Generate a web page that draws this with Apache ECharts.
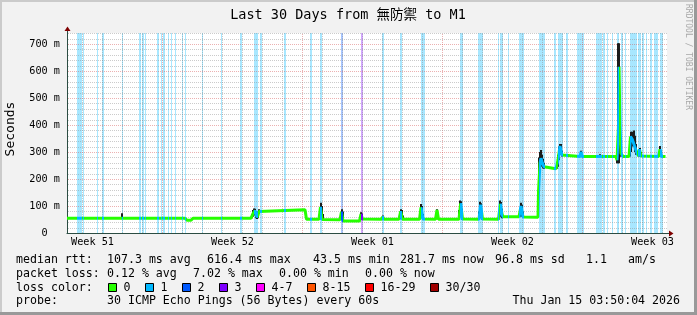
<!DOCTYPE html>
<html><head><meta charset="utf-8">
<script src="https://cdn.jsdelivr.net/npm/echarts@6/dist/echarts.min.js"></script>
<style>html,body{margin:0;padding:0;background:#f2f2f2}#c{width:697px;height:315px}</style>
</head><body><div id="c"></div>
<script>
// ---- data (time = hours since start of the 30-day window, values in ms) ----
const weekLabels = ['Week 51', 'Week 52', 'Week 01', 'Week 02', 'Week 03'];
const weekLabelHours = [30.6, 198.6, 366.6, 534.6, 702.6];
const yTickValues = [0, 100, 200, 300, 400, 500, 600, 700];

const medianHours = [0, 63.6, 66.0, 68.4, 141.6, 144.0, 148.8, 151.2, 220.8, 223.2, 225.6, 226.8, 228.0, 229.2, 230.4, 232.8,
  285.6, 287.4, 302.4, 304.2, 306.0, 307.2, 327.6, 329.4, 331.2, 351.0, 352.8, 354.6, 377.4, 378.8, 380.4, 398.4, 400.4, 402.6,
  423.0, 424.8, 427.2, 442.2, 444.0, 445.8, 470.4, 472.4, 474.6, 494.4, 496.4, 498.6, 517.8, 520.0, 522.0, 523.2, 542.4, 544.8,
  547.2, 565.2, 565.8, 567.6, 568.8, 570.0, 572.4, 573.6, 586.8, 589.2, 591.6, 594.0, 595.2, 615.6, 616.8, 618.0, 638.4, 639.6,
  640.8, 658.8, 660.0, 661.8, 662.4, 663.6, 664.8, 667.2, 674.4, 676.2, 678.6, 681.0, 683.4, 685.8, 687.0, 688.8, 690.6, 709.8,
  711.6, 713.4, 718.2];
const medianValues = [55, 55, 62, 55, 55, 47, 47, 55, 55, 72, 83, 70, 58, 66, 80, 86,
  86, 51, 51, 97, 50, 49, 49, 79, 44, 44, 70, 52, 51, 60, 51, 51, 80, 51,
  51, 95, 52, 51, 85, 51, 51, 110, 52, 51, 105, 52, 51, 108, 70, 60, 60, 100,
  59, 58, 153, 260, 277, 264, 245, 238, 238, 270, 322, 289, 283, 283, 301, 283, 283, 290,
  283, 283, 270, 400, 616, 400, 295, 283, 283, 357, 345, 350, 300, 285, 310, 285, 283, 283,
  310, 283, 283];

const smokeHours = [66.0, 222.0, 223.2, 224.4, 225.6, 226.8, 228.0, 229.2, 230.4, 303.0, 304.2, 305.4, 306.6, 328.2, 329.4, 330.6,
  351.6, 352.8, 354.0, 378.8, 399.0, 400.2, 401.4, 402.6, 423.6, 424.8, 426.0, 427.2, 442.8, 444.0, 445.2, 470.4, 471.6, 472.8, 474.0,
  494.4, 495.6, 496.8, 498.0, 518.4, 519.6, 520.8, 522.0, 543.6, 544.8, 546.0, 547.2, 565.2, 566.4, 567.6, 568.8, 570.0, 571.2, 572.4,
  587.4, 588.6, 589.8, 591.0, 592.2, 593.4, 616.8, 639.6, 660.0, 661.2, 662.4, 663.6, 664.8, 675.6, 676.8, 678.0, 679.2, 680.4, 681.6,
  682.8, 686.4, 687.6, 688.8, 710.4, 711.6, 712.8];
const smokeLow = [55, 55, 60, 65, 70, 55, 52, 55, 70, 51, 60, 50, 48, 49, 55, 45,
  44, 50, 50, 50, 51, 55, 51, 50, 51, 60, 55, 50, 51, 55, 51, 51, 60, 60, 50,
  51, 60, 55, 50, 51, 60, 60, 55, 60, 65, 60, 58, 58, 153, 240, 250, 245, 240, 238,
  238, 245, 270, 290, 295, 283, 283, 283, 258, 258, 258, 283, 283, 283, 300, 320, 330, 320, 300,
  290, 283, 290, 283, 283, 290, 283];
const smokeHigh = [73, 70, 85, 91, 90, 80, 65, 80, 88, 90, 112, 100, 70, 70, 88, 80,
  60, 77, 72, 65, 75, 88, 85, 65, 80, 107, 100, 70, 70, 88, 75, 85, 120, 118, 90,
  80, 116, 110, 80, 85, 120, 115, 90, 90, 112, 105, 80, 153, 280, 300, 307, 290, 275, 260,
  255, 290, 320, 330, 330, 305, 305, 292, 290, 703, 703, 320, 300, 330, 375, 375, 370, 380, 360,
  330, 300, 315, 300, 300, 322, 305];

const lossStart = [12.0, 18.8, 35.6, 42.0, 65.6, 86.8, 89.6, 93.6, 108.4, 112.4, 114.8, 120.8, 124.8, 129.6, 138.0, 141.6,
  162.4, 184.8, 208.0, 224.4, 231.6, 260.8, 292.0, 303.2, 328.8, 352.4, 378.4, 399.6, 424.8, 471.6, 493.6, 516.8, 519.6,
  528.8, 542.4, 566.4, 584.8, 588.8, 598.4, 611.6, 634.4, 642.8, 648.0, 653.6, 659.6, 664.8, 669.6, 675.2, 685.6, 690.4,
  694.4, 699.2, 704.8, 711.2];
const lossEnd = [18.0, 20.0, 37.2, 44.0, 67.6, 89.2, 92.4, 94.8, 110.0, 114.0, 117.2, 122.4, 126.4, 131.2, 139.6, 142.8,
  163.6, 186.4, 209.6, 229.6, 233.6, 262.8, 293.6, 306.4, 330.8, 354.8, 380.4, 402.4, 429.6, 475.6, 499.2, 518.8, 523.2,
  530.4, 548.4, 573.6, 586.8, 594.8, 600.8, 620.4, 641.6, 645.6, 649.6, 655.2, 662.4, 667.6, 671.2, 684.0, 688.4, 692.4,
  695.6, 702.4, 709.6, 715.6];
const lossLevel = [1, 1, 1, 1, 1, 1, 1, 1, 1, 1, 1, 1, 1, 1, 1, 1,
  1, 1, 1, 1, 1, 1, 1, 1, 2, 3, 1, 1, 1, 1, 1, 1, 1,
  1, 1, 1, 1, 1, 1, 1, 1, 1, 1, 1, 1, 1, 1, 1, 1, 1,
  1, 1, 1, 1];

const titleText = 'Last 30 Days from 無防禦 to M1';
const rttStats = ['median rtt:', '107.3 ms avg', '616.4 ms max', '43.5 ms min', '281.7 ms now', '96.8 ms sd', '1.1', 'am/s'];
const lossStats = ['packet loss:', '0.12 % avg', '7.02 % max', '0.00 % min', '0.00 % now'];
const lossColorLabels = ['0', '1', '2', '3', '4-7', '8-15', '16-29', '30/30'];
const lossColorValues = ['#26ff00', '#00b8ff', '#0059ff', '#7e00ff', '#ff00ff', '#ff5500', '#ff0000', '#a00000'];
const probeText = ['probe:', '30 ICMP Echo Pings (56 Bytes) every 60s', 'Thu Jan 15 03:50:04 2026'];

// ---- styling ----
const MONO = "'DejaVu Sans Mono', 'Noto Sans CJK TC', monospace";
const AXIS = '#2c4d43';
const ARROW = '#7f0000';
const yMax = 740.7;
const xMax = 720;
const stripeColors = {1: 'rgba(0,184,255,0.34)', 2: 'rgba(0,89,255,0.34)', 3: 'rgba(126,0,255,0.34)'};
const gridColors = ['rgba(140,140,140,0.45)', 'rgba(210,70,70,0.42)'];

// grid line positions: [value, axis (0 = time, 1 = value), major flag]
const gridItems = [];
for (let h = 18; h < xMax; h += 24) gridItems.push([h, 0, (h - 114) % 168 === 0 ? 1 : 0]);
for (let v = 20; v <= 740; v += 20) gridItems.push([v, 1, v % 100 === 0 ? 1 : 0]);

const pieces = lossStart.map((s, i) => ({gte: s, lte: lossEnd[i], color: lossColorValues[lossLevel[i]]}));

const chart = echarts.init(document.getElementById('c'), null, {renderer: 'canvas', width: 697, height: 315});

const option = {
  animation: false,
  backgroundColor: '#f2f2f2',
  grid: {left: 67, top: 33, width: 600, height: 200, show: true, backgroundColor: '#ffffff', borderWidth: 0, containLabel: false},
  xAxis: [
    {type: 'value', min: 0, max: xMax, axisLine: {show: true, onZero: false, lineStyle: {color: AXIS, width: 1}},
      axisTick: {show: false},
      axisLabel: {show: true, customValues: weekLabelHours, margin: 4, fontFamily: MONO, fontSize: 10.2, color: '#000',
        formatter: v => { let bi = 0; weekLabelHours.forEach((h, i) => { if (Math.abs(h - v) < Math.abs(weekLabelHours[bi] - v)) bi = i; }); return weekLabels[bi]; }},
      splitLine: {show: false}}
  ],
  yAxis: [
    {type: 'value', min: 0, max: yMax, axisLine: {show: true, onZero: false, lineStyle: {color: AXIS, width: 1}},
      axisTick: {show: false},
      axisLabel: {show: true, customValues: yTickValues, margin: 7, fontFamily: MONO, fontSize: 10.2, color: '#000',
        formatter: v => v === 0 ? '0  ' : v + ' m'},
      splitLine: {show: false}}
  ],
  visualMap: {type: 'piecewise', show: false, dimension: 0, seriesIndex: 3, pieces: pieces, outOfRange: {color: '#26ff00'}},
  series: [
    {type: 'custom', name: 'loss', z: 1, silent: true,
      data: lossStart.map((s, i) => [s, lossEnd[i], lossLevel[i]]),
      encode: {x: [0, 1], y: 2},
      renderItem: (params, api) => {
        const a = api.coord([api.value(0), 0]);
        const b = api.coord([api.value(1), yMax]);
        const x0 = Math.round(a[0]);
        let x1 = Math.round(b[0]); if (x1 <= x0) x1 = x0 + 1;
        return {type: 'rect', shape: {x: x0, y: b[1], width: x1 - x0, height: a[1] - b[1]},
          style: {fill: stripeColors[api.value(2)]}};
      }},
    {type: 'custom', name: 'grid', z: 2, silent: true,
      data: gridItems,
      encode: {x: 0, y: 1},
      renderItem: (params, api) => {
        const v = api.value(0), isY = api.value(1) === 1, major = api.value(2);
        const p0 = api.coord([0, 0]), p1 = api.coord([xMax, yMax]);
        let shape;
        if (isY) {
          const y = Math.round(api.coord([0, v])[1]) + 0.5;
          shape = {x1: p0[0] + 1, y1: y, x2: p1[0], y2: y};
        } else {
          const x = Math.round(api.coord([v, 0])[0]) + 0.5;
          shape = {x1: x, y1: p0[1], x2: x, y2: p1[1]};
        }
        return {type: 'line', shape: shape, style: {stroke: gridColors[major], lineWidth: 1, lineDash: [1, 1]}};
      }},
    {type: 'custom', name: 'smoke', z: 3, silent: true,
      data: smokeHours.map((h, i) => [h, smokeLow[i], smokeHigh[i]]),
      encode: {x: 0, y: [1, 2]},
      renderItem: (params, api) => {
        const lo = api.coord([api.value(0), api.value(1)]);
        const hi = api.coord([api.value(0), api.value(2)]);
        const x = Math.round(lo[0] - 1);
        return {type: 'rect', shape: {x: x, y: hi[1], width: 2, height: Math.max(1, lo[1] - hi[1])},
          style: {fill: '#1c1c1c'}};
      }},
    {type: 'line', name: 'median', z: 4, silent: true, showSymbol: false,
      data: medianHours.map((h, i) => [h, medianValues[i]]),
      lineStyle: {width: 3}}
  ]
};
chart.setOption(option);

const tl = chart.convertToPixel({xAxisIndex: 0, yAxisIndex: 0}, [0, yMax]);
const br = chart.convertToPixel({xAxisIndex: 0, yAxisIndex: 0}, [xMax, 0]);
const ax = Math.round(tl[0]) + 0.5, ay = Math.round(br[1]) + 0.5;
const plotTop = Math.round(tl[1]), plotRight = Math.round(br[0]);

const g = [];
// frame shading
g.push({type: 'rect', shape: {x: 0, y: 0, width: 697, height: 2}, style: {fill: '#cbcbcb'}, silent: true});
g.push({type: 'rect', shape: {x: 0, y: 0, width: 2, height: 315}, style: {fill: '#cbcbcb'}, silent: true});
g.push({type: 'rect', shape: {x: 0, y: 312, width: 697, height: 3}, style: {fill: '#999999'}, silent: true});
g.push({type: 'rect', shape: {x: 694, y: 0, width: 3, height: 315}, style: {fill: '#999999'}, silent: true});
// axis extensions and arrows
g.push({type: 'line', shape: {x1: ax, y1: plotTop, x2: ax, y2: plotTop - 2}, style: {stroke: AXIS, lineWidth: 1}, silent: true});
g.push({type: 'line', shape: {x1: plotRight, y1: ay, x2: plotRight + 2, y2: ay}, style: {stroke: AXIS, lineWidth: 1}, silent: true});
g.push({type: 'polygon', shape: {points: [[ax, plotTop - 6.5], [ax - 3, plotTop - 2], [ax + 3, plotTop - 2]]}, style: {fill: ARROW}, silent: true});
g.push({type: 'polygon', shape: {points: [[plotRight + 6.5, ay], [plotRight + 2, ay - 3], [plotRight + 2, ay + 3]]}, style: {fill: ARROW}, silent: true});
// title, unit, watermark
g.push({type: 'text', x: 348, y: 15, silent: true, style: {text: titleText, font: '13.5px ' + MONO, fill: '#000', align: 'center', verticalAlign: 'middle'}});
g.push({type: 'text', x: 11, y: 129, rotation: Math.PI / 2, silent: true, style: {text: 'Seconds', font: '13px ' + MONO, fill: '#000', align: 'center', verticalAlign: 'middle'}});
g.push({type: 'text', x: 688, y: 57, rotation: -Math.PI / 2, silent: true, style: {text: 'RRDTOOL / TOBI OETIKER', font: '8px ' + MONO, fill: '#a8a8a8', align: 'center', verticalAlign: 'middle'}});
// legend rows
const LF = '11.6px ' + MONO;
const txt = (x, y, s, align) => g.push({type: 'text', x: x, y: y, silent: true, style: {text: s, font: LF, fill: '#000', align: align || 'left', verticalAlign: 'middle'}});
const rttX = [16, 107, 207, 313, 400, 495, 586, 628];
rttStats.forEach((s, i) => txt(rttX[i], 259.5, s));
const lossX = [16, 107, 193, 279, 365];
lossStats.forEach((s, i) => txt(lossX[i], 273.5, s));
txt(16, 287.5, 'loss color:');
const boxX = [108.5, 145.5, 182.5, 219.5, 256.5, 307.5, 365.5, 430.5];
lossColorLabels.forEach((s, i) => {
  g.push({type: 'rect', shape: {x: boxX[i], y: 283.5, width: 8, height: 8}, style: {fill: lossColorValues[i], stroke: '#000', lineWidth: 1}, silent: true});
  txt(boxX[i] + 15, 287.5, s);
});
txt(16, 301, probeText[0]);
txt(107, 301, probeText[1]);
txt(680, 301, probeText[2], 'right');

chart.setOption({graphic: g});
</script></body></html>
